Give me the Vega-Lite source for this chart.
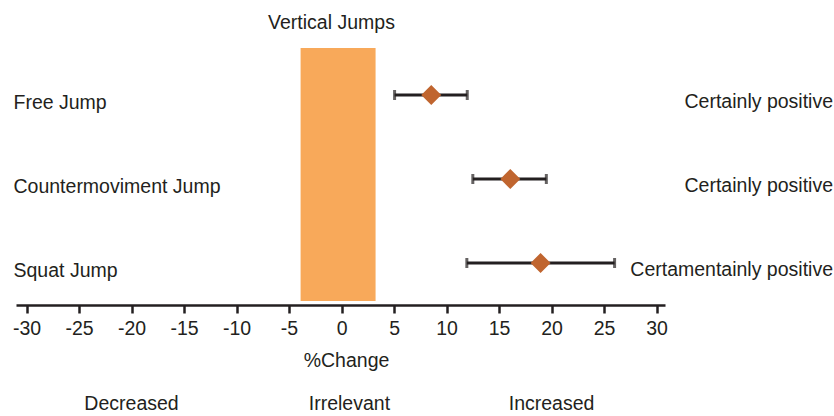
{
  "$schema": "https://vega.github.io/schema/vega-lite/v6.json",
  "padding": {"left": 12, "top": 12, "right": 0, "bottom": 0},
  "background": "white",
  "config": {
    "font": "Liberation Sans",
    "view": {"stroke": null},
    "text": {"color": "#231f20"}
  },
  "datasets": {
    "jumps": [
      {"exercise": "Free Jump", "mean": 8.54, "lower": 5.05, "upper": 11.97, "verdict": "Certainly positive"},
      {"exercise": "Countermoviment Jump", "mean": 16.07, "lower": 12.5, "upper": 19.5, "verdict": "Certainly positive"},
      {"exercise": "Squat Jump", "mean": 18.95, "lower": 11.93, "upper": 26.0, "verdict": "Certamentainly positive"}
    ],
    "band": [{"from": -3.9, "to": 3.24}],
    "zones": [
      {"zone": "Decreased", "pos": -20},
      {"zone": "Irrelevant", "pos": 0.75},
      {"zone": "Increased", "pos": 20}
    ]
  },
  "spacing": 22,
  "vconcat": [
    {
      "width": 649,
      "height": 253,
      "title": {"text": "Vertical Jumps", "frame": "group", "anchor": "middle", "dx": -9, "baseline": "alphabetic", "offset": 0, "fontSize": 19.5, "fontWeight": "normal", "color": "#231f20"},
      "layer": [
        {
          "data": {"name": "band"},
          "mark": {"type": "rect", "color": "#F8A95A"},
          "encoding": {
            "x": {
              "field": "from", "type": "quantitative",
              "scale": {"domain": [-31, 30.8], "nice": false, "zero": false},
              "axis": {
                "values": [-30, -25, -20, -15, -10, -5, 0, 5, 10, 15, 20, 25, 30],
                "labelExpr": "replace(datum.label, '\u2212', '-')",
                "title": "%Change", "offset": 4, "grid": false,
                "domainWidth": 2.5, "domainColor": "#231f20",
                "tickColor": "#231f20", "tickWidth": 2.5, "tickSize": 8,
                "labelFontSize": 19.5, "labelColor": "#231f20", "labelPadding": 6, "labelFlush": false,
                "titleFontSize": 19.5, "titleFontWeight": "normal", "titleColor": "#231f20", "titlePadding": 14, "titleX": 330
              }
            },
            "x2": {"field": "to"}
          }
        },
        {
          "data": {"name": "jumps"},
          "mark": {"type": "rule", "strokeWidth": 3, "color": "#231f20"},
          "encoding": {
            "y": {
              "field": "exercise", "type": "ordinal", "sort": null,
              "scale": {"type": "point", "padding": 0.506, "align": 0.553},
              "axis": {"title": null, "orient": "left", "domain": false, "ticks": false, "grid": false,
                       "labelAlign": "left", "labelPadding": 3, "labelFontSize": 19.5, "labelColor": "#231f20",
                       "labelOffset": 7, "labelLimit": 0, "labelBaseline": "middle"}
            },
            "x": {"field": "lower", "type": "quantitative"},
            "x2": {"field": "upper"}
          }
        },
        {
          "data": {"name": "jumps"},
          "mark": {"type": "tick", "thickness": 3, "size": 10, "color": "#231f20"},
          "encoding": {
            "y": {"field": "exercise", "type": "ordinal", "sort": null},
            "x": {"field": "lower", "type": "quantitative"}
          }
        },
        {
          "data": {"name": "jumps"},
          "mark": {"type": "tick", "thickness": 3, "size": 10, "color": "#231f20"},
          "encoding": {
            "y": {"field": "exercise", "type": "ordinal", "sort": null},
            "x": {"field": "upper", "type": "quantitative"}
          }
        },
        {
          "data": {"name": "jumps"},
          "mark": {"type": "point", "shape": "diamond", "filled": true, "size": 400, "color": "#C0652F", "opacity": 1},
          "encoding": {
            "y": {"field": "exercise", "type": "ordinal", "sort": null},
            "x": {"field": "mean", "type": "quantitative"}
          }
        },
        {
          "data": {"name": "jumps"},
          "mark": {"type": "text", "align": "right", "baseline": "middle", "dx": 168, "dy": 7, "fontSize": 19.5, "color": "#231f20"},
          "encoding": {
            "y": {"field": "exercise", "type": "ordinal", "sort": null},
            "x": {"datum": 30.8},
            "text": {"field": "verdict"}
          }
        }
      ]
    },
    {
      "width": 649,
      "height": 24,
      "data": {"name": "zones"},
      "mark": {"type": "text", "fontSize": 19.5, "baseline": "middle", "color": "#231f20"},
      "encoding": {
        "x": {"field": "pos", "type": "quantitative", "scale": {"domain": [-31, 30.8], "nice": false, "zero": false}, "axis": null},
        "text": {"field": "zone"}
      }
    }
  ]
}
